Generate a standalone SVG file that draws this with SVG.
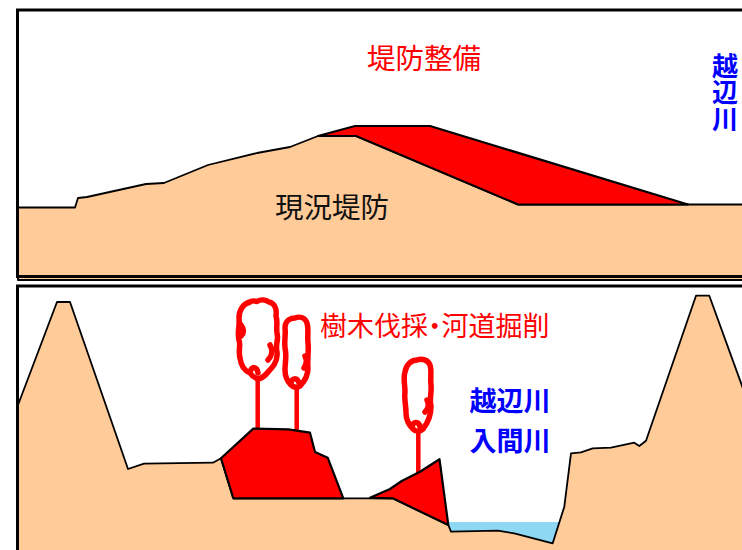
<svg xmlns="http://www.w3.org/2000/svg" width="742" height="550" viewBox="0 0 742 550">
  <style>
    .frame { fill: none; stroke: #000; stroke-width: 3; }
    .ground { fill: #FFCB99; stroke: #000; stroke-width: 1.8; stroke-linejoin: round; }
    .cut { fill: #FF0000; stroke: #000; stroke-width: 2.2; stroke-linejoin: round; }
    .water { fill: #8ED8F3; }
    .crown { fill: none; stroke: #FF0000; stroke-width: 5.5; stroke-linejoin: round; stroke-linecap: round; }
    .trunk { stroke: #FF0000; stroke-width: 4.5; }
    .jp { font-family: "Noto Sans CJK JP", "Noto Sans", sans-serif; font-size: 27px; }
    .big { font-size: 28.5px; }
    .vert { font-size: 26px; writing-mode: vertical-rl; letter-spacing: 0.5px; }
    .half { font-feature-settings: "palt" 1; }
    .red { fill: #FF0000; }
    .blue { fill: #0000FF; font-weight: bold; }
    .black { fill: #111; }
  </style>

  <rect width="742" height="550" fill="#fff"/>

  <!-- Upper section: existing levee and planned levee work -->
  <g id="levee-section">
    <path id="existing-levee" class="ground" d="M 18 207.5 L 75 207.5 L 78 198 L 87 197 L 146 184 L 164 183 L 208 165 L 257 153 L 290 147 L 318 136 L 356 136 L 518 204.5 L 760 204.5 L 760 280 L 18 280 Z"/>
    <path id="levee-raise" class="cut" d="M 318 136 L 355 126 L 430 126 L 688 204.5 L 518 204.5 L 356 136 Z"/>
    <text id="label-levee-work" class="jp big red" x="424" y="69" text-anchor="middle">堤防整備</text>
    <text id="label-existing" class="jp big black" x="332" y="218" text-anchor="middle">現況堤防</text>
    <text id="label-river-top" class="jp vert blue" x="725" y="53">越辺川</text>
    <rect class="frame" x="17.5" y="10" width="740" height="266.5"/>
  </g>

  <!-- Lower section: river channel, tree clearing and channel excavation -->
  <g id="channel-section">
    <rect id="river-water" class="water" x="446" y="522" width="122" height="30"/>
    <path id="riverbed" class="ground" d="M 18 405 L 57 302 L 70 302 L 128 469 L 144 463.7 L 213 462.7 L 221 458.3 L 233.3 498.3 L 392.7 498.3 L 448.3 525 L 451 531.7 L 497.7 530.7 L 514.3 533.3 L 552.7 543.3 L 564.3 506.7 L 571 453.3 L 581 452.3 L 592.7 448.3 L 611 447.7 L 634.3 442.7 L 639.3 446 L 646 440.7 L 696 295.7 L 709.3 295.7 L 745 394 L 760 394 L 760 560 L 18 560 Z"/>

    <g id="tree-1">
      <line class="trunk" x1="257.7" y1="376" x2="257.7" y2="432"/>
      <path class="crown" d="M 257 301.5 C 261 299, 266 300, 269 302 C 274 303, 277 308, 276 316 C 278 322, 276 326, 277 333 C 279 340, 275 344, 277 352 C 278 362, 272 368, 268 372 C 265 376, 262 378, 258 379 C 255 378, 252 376, 250 373 C 245 371, 241 366, 240 358 C 238 350, 241 346, 239 340 C 237 332, 240 326, 239 318 C 239 310, 243 304, 250 302 C 252 300, 255 301, 257 301.5 Z"/>
      <path class="crown" d="M 250 372 C 252 366, 257 366, 258 373 M 270 345 C 273 350, 272 356, 268 360 M 241 325 C 244 329, 244 333, 241 336"/>
    </g>

    <g id="tree-2">
      <line class="trunk" x1="296.7" y1="386" x2="296.7" y2="432"/>
      <path class="crown" d="M 295 318 C 300 316, 305 318, 307 323 C 309 330, 307 336, 308 343 C 309 352, 307 360, 308 368 C 308 376, 304 382, 300 386 C 297 388, 294 388, 291 385 C 287 381, 285 376, 285 370 C 285 362, 287 356, 285 348 C 284 340, 286 334, 285 328 C 285 322, 289 318, 295 318 Z"/>
      <path class="crown" d="M 291 383 C 292 378, 297 377, 299 383 M 305 356 C 307 360, 306 365, 304 368"/>
    </g>

    <g id="tree-3">
      <line class="trunk" x1="418.3" y1="430" x2="418.3" y2="476"/>
      <path class="crown" d="M 417 360 C 422 358, 428 360, 430 365 C 432 371, 430 378, 431 385 C 432 393, 429 399, 431 406 C 431 416, 427 424, 423 429 C 420 432, 416 432, 413 429 C 409 425, 406 420, 406 413 C 406 405, 404 399, 405 392 C 405 385, 403 378, 405 372 C 406 365, 411 360, 417 360 Z"/>
      <path class="crown" d="M 412 427 C 413 421, 419 421, 420 427 M 427 400 C 429 404, 428 409, 425 412"/>
    </g>

    <path id="cut-bar" class="cut" d="M 221 458.3 L 253.3 428.6 L 288.3 429.3 L 310 432.7 L 315 452 L 327.7 457.7 L 343.3 498.3 L 233.3 498.3 Z"/>
    <path id="cut-bank" class="cut" d="M 370 497.8 L 390 489 L 401.7 481 L 420 471.7 L 439.5 459.2 L 448.3 525 L 392.7 498.3 Z"/>

    <text id="label-clearing" class="jp red" x="320" y="336">樹木伐採<tspan class="half">・</tspan>河道掘削</text>
    <g id="label-rivers" class="jp blue" text-anchor="middle">
      <text x="510" y="411">越辺川</text>
      <text x="510" y="451">入間川</text>
    </g>

    <rect class="frame" x="17.5" y="286" width="740" height="280"/>
  </g>
</svg>
